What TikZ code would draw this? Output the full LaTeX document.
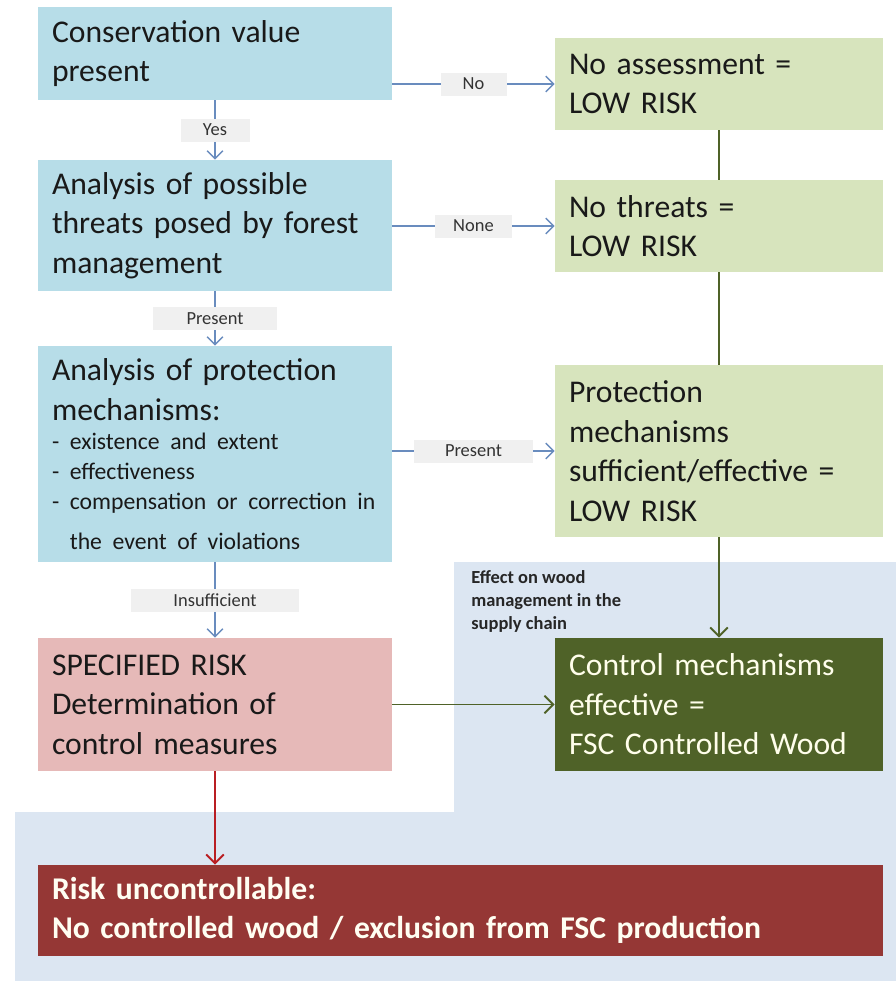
\documentclass[tikz,border=0pt]{standalone}
\usepackage{fontspec}
\setmainfont{Carlito}
\usetikzlibrary{arrows.meta}
\definecolor{myblue}{RGB}{183,221,232}
\definecolor{mygreen}{RGB}{215,228,189}
\definecolor{mypink}{RGB}{230,185,184}
\definecolor{myolive}{RGB}{79,98,40}
\definecolor{myred}{RGB}{149,55,53}
\definecolor{mybg}{RGB}{220,230,242}
\definecolor{mylabel}{RGB}{240,240,240}
\definecolor{myline}{RGB}{105,140,190}
\definecolor{myarrowred}{RGB}{185,30,35}

\newcommand{\boxfont}{\fontsize{18}{22.5}\selectfont}
\newcommand{\subfont}{\fontsize{13.5}{17}\selectfont}

\begin{document}
\begin{tikzpicture}

\tikzstyle{blue-b} = [fill=myblue, text width=6.52cm, inner xsep=0.28cm, inner ysep=0, align=left, font=\boxfont, text=black!90]
\tikzstyle{green-b} = [fill=mygreen, text width=6.0cm, inner xsep=0.28cm, inner ysep=0, align=left, font=\boxfont, text=black!90]
\tikzstyle{pink_block} = [fill=mypink, text width=6.52cm, inner xsep=0.28cm, inner ysep=0, align=left, font=\boxfont, text=black!90]
\tikzstyle{olive_block} = [fill=myolive, text width=6.0cm, inner xsep=0.28cm, inner ysep=0, align=left, font=\boxfont, text=white!92!yellow]
\tikzstyle{red_block} = [fill=myred, text width=16.34cm, inner xsep=0.28cm, inner ysep=0, align=left, font=\boxfont\bfseries, text=white!95!yellow]
\tikzstyle{lbl} = [fill=mylabel, minimum height=0.46cm, inner sep=0, font=\fontsize{10.5}{12}\selectfont, text=black!80]
\tikzstyle{blue-line} = [draw=myline, line width=0.8pt]
\tikzstyle{olive-line} = [draw=myolive, line width=1.1pt]
\tikzstyle{red-line} = [draw=myarrowred, line width=1.1pt]
\tikzset{>={Straight Barb[length=4.5pt,width=9pt]}}

\useasboundingbox (0,0) rectangle (17.92,-19.62);
\fill[white] (0,0) rectangle (17.92,-19.62);

% supply chain area
\fill[mybg] (9.08,-11.24) -- (17.92,-11.24) -- (17.92,-19.62) -- (0.30,-19.62)
  -- (0.30,-16.24) -- (9.08,-16.24) -- cycle;

\node [blue-b, minimum height=1.86cm] (cons) at (4.30,-1.07) {Conservation value\\present};
\node [blue-b, minimum height=2.62cm] (threats) at (4.30,-4.51) {Analysis of possible\\threats posed by forest\\management};
\node [blue-b, minimum height=4.32cm] (protect) at (4.30,-9.08) {Analysis of protection\\mechanisms:\par
  \subfont - existence and extent\\- effectiveness\\- compensation or correction in\\\hphantom{- }the event of violations};
\node [pink_block, minimum height=2.66cm] (specified) at (4.30,-14.09) {SPECIFIED RISK\\Determination of\\control measures};

\node [green-b, minimum height=1.84cm] (noassess) at (14.38,-1.68) {No assessment =\\LOW RISK};
\node [green-b, minimum height=1.84cm] (nothreat) at (14.38,-4.52) {No threats =\\LOW RISK};
\node [green-b, minimum height=3.44cm] (suffic) at (14.38,-9.02) {Protection\\mechanisms\\sufficient/effective =\\LOW RISK};
\node [olive_block, minimum height=2.66cm] (fscwood) at (14.38,-14.09) {Control mechanisms\\effective =\\FSC Controlled Wood};

\node [red_block, minimum height=1.82cm] (uncontrol) at (9.21,-18.21) {Risk uncontrollable:\\No controlled wood / exclusion from FSC production};

\node [anchor=north west, inner sep=0, align=left, font=\fontsize{10.5}{13}\selectfont\bfseries, text=black!85] (effect) at (9.42,-11.40) {Effect on wood\\management in the\\supply chain};

% blue connectors
\draw[blue-line, ->] (cons.east |- noassess) -- node[lbl, minimum width=1.32cm] (lno) {No} (noassess.west);
\draw[blue-line, ->] (threats.east |- nothreat) -- node[lbl, minimum width=1.54cm] (lnone) {None} (nothreat.west);
\draw[blue-line, ->] (protect.east |- suffic) -- node[lbl, minimum width=2.38cm] (lpres) {Present} (suffic.west);
\draw[blue-line, ->] (cons.south) -- node[lbl, minimum width=1.38cm] (lyes) {Yes} (threats.north);
\draw[blue-line, ->] (threats.south) -- node[lbl, minimum width=2.48cm] (lpresent) {Present} (protect.north);
\draw[blue-line, ->] (protect.south) -- node[lbl, minimum width=3.36cm] (linsuff) {Insufficient} (specified.north);

% olive connectors
\draw[olive-line] (noassess.south) -- (nothreat.north);
\draw[olive-line] (nothreat.south) -- (suffic.north);
\draw[olive-line, ->, >={Straight Barb[length=5pt,width=10pt]}] (suffic.south) -- (fscwood.north);
\draw[olive-line, ->, >={Straight Barb[length=5pt,width=10pt]}] (specified.east) -- (fscwood.west);

\draw[red-line, ->, >={Straight Barb[length=5pt,width=10pt]}] (specified.south) -- (specified.south |- uncontrol.north);

\end{tikzpicture}
\end{document}
